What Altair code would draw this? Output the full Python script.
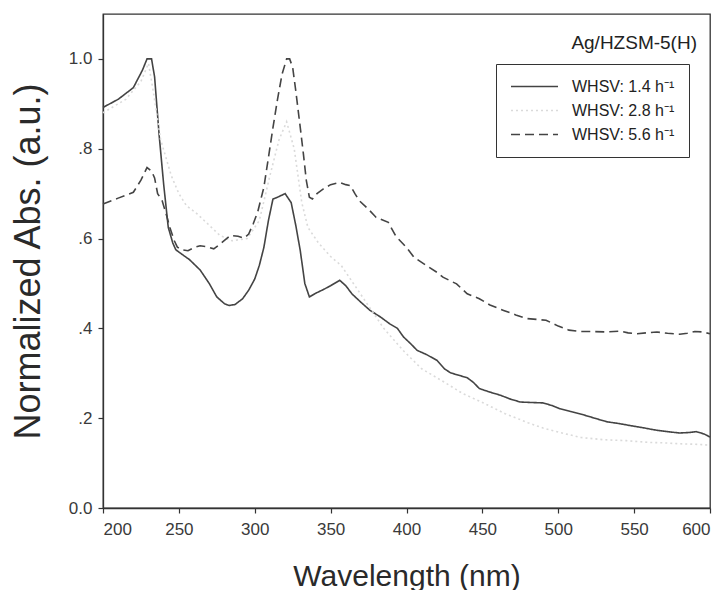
import altair as alt
import pandas as pd

# ---- data ----
series_names = ["WHSV: 1.4 h⁻¹", "WHSV: 2.8 h⁻¹", "WHSV: 5.6 h⁻¹"]

wl_14 = [200, 210, 220, 226, 229, 232, 234, 237, 240, 243, 246, 248, 252, 257, 264, 270, 275,
         280, 283, 287, 292, 296, 300, 303, 306, 309, 312, 315, 320, 324, 327, 330, 333, 336,
         340, 345, 350, 356, 360, 364, 370, 376, 383, 389, 394, 398, 403, 407, 413, 420, 425,
         429, 435, 440, 444, 448, 455, 462, 468, 475, 482, 490, 496, 501, 508, 516, 524, 532,
         540, 550, 557, 565, 572, 580, 586, 591, 596, 600]
ab_14 = [0.892, 0.91, 0.936, 0.975, 1.0, 1.0, 0.96, 0.83, 0.72, 0.625, 0.59, 0.575, 0.565, 0.553,
         0.53, 0.50, 0.47, 0.455, 0.451, 0.453, 0.466, 0.485, 0.51, 0.54, 0.58, 0.64, 0.688, 0.692,
         0.70, 0.680, 0.63, 0.573, 0.50, 0.47, 0.478, 0.486, 0.495, 0.507, 0.495, 0.477, 0.458,
         0.44, 0.425, 0.41, 0.40, 0.381, 0.365, 0.351, 0.342, 0.329, 0.31, 0.301, 0.295, 0.29,
         0.28, 0.266, 0.258, 0.251, 0.243, 0.236, 0.235, 0.234, 0.228, 0.221, 0.215, 0.208, 0.2,
         0.192, 0.188, 0.182, 0.178, 0.173, 0.17, 0.167, 0.168, 0.17, 0.165, 0.158]

wl_28 = [200, 215, 225, 230, 233, 238, 245, 250, 255, 262, 268, 277, 285, 295, 303, 310, 316,
         321, 326, 331, 335, 342, 350, 357, 365, 375, 385, 398, 410, 425, 437, 450, 465, 480,
         490, 505, 515, 530, 545, 560, 570, 580, 590, 600]
ab_28 = [0.88, 0.91, 0.95, 0.99, 0.93, 0.82, 0.74, 0.70, 0.673, 0.655, 0.636, 0.607, 0.595, 0.60,
         0.64, 0.74, 0.82, 0.86, 0.80, 0.68, 0.625, 0.59, 0.56, 0.54, 0.50, 0.45, 0.40, 0.35,
         0.31, 0.28, 0.255, 0.235, 0.21, 0.19, 0.178, 0.165, 0.157, 0.152, 0.15, 0.146, 0.145,
         0.143, 0.142, 0.14]

wl_56 = [200, 210, 220, 225, 229, 232, 234, 236, 239, 242, 244, 247, 249, 252, 256, 260, 264,
         268, 273, 278, 284, 289, 293, 296, 299, 302, 306, 309, 312, 315, 318, 321, 323, 325,
         327, 330, 332, 334, 336, 338, 341, 345, 350, 356, 360, 363, 366, 369, 375, 380, 388,
         393, 400, 405, 413, 420, 424, 433, 440, 448, 455, 464, 472, 479, 492, 500, 507, 515,
         523, 532, 541, 546, 552, 558, 565, 572, 580, 585, 590, 595, 600]
ab_56 = [0.677, 0.69, 0.703, 0.73, 0.758, 0.75, 0.735, 0.70, 0.684, 0.65, 0.625, 0.595, 0.581,
         0.575, 0.573, 0.58, 0.584, 0.582, 0.577, 0.59, 0.607, 0.605, 0.601, 0.61, 0.633, 0.66,
         0.714, 0.78, 0.847, 0.91, 0.966, 1.0, 1.0, 0.981, 0.93, 0.847, 0.79, 0.729, 0.692, 0.688,
         0.70, 0.71, 0.72, 0.725, 0.72, 0.718, 0.70, 0.684, 0.665, 0.647, 0.636, 0.605, 0.58,
         0.558, 0.54, 0.525, 0.514, 0.499, 0.477, 0.466, 0.452, 0.44, 0.43, 0.422, 0.418, 0.405,
         0.396, 0.393, 0.393, 0.392, 0.394, 0.39, 0.388, 0.39, 0.392, 0.389, 0.387, 0.389, 0.393,
         0.392, 0.388]

x_ticks = [200, 250, 300, 350, 400, 450, 500, 550, 600]
y_ticks = [0.0, 0.2, 0.4, 0.6, 0.8, 1.0]
sample_label = "Ag/HZSM-5(H)"

rows = []
for name, wl, ab in zip(series_names, [wl_14, wl_28, wl_56], [ab_14, ab_28, ab_56]):
    for w, a in zip(wl, ab):
        rows.append({"series": name, "wl": w, "abs": a})
df = pd.DataFrame(rows)

FONT = "Liberation Sans"
W, H = 607, 494

legend_cfg = dict(title=None, orient="none", legendX=393, legendY=50,
                  symbolType="stroke", symbolSize=2209,
                  symbolStrokeWidth=1.5, clipHeight=17, rowPadding=7,
                  labelFontSize=16, labelFont=FONT, labelColor="#222",
                  labelOffset=13, padding=14, strokeColor="#333",
                  fillColor="white")

lines = alt.Chart(df).mark_line(strokeWidth=1.6).encode(
    x=alt.X("wl:Q", scale=alt.Scale(domain=[200, 600], nice=False),
            axis=alt.Axis(values=x_ticks, title="Wavelength (nm)", titleFontSize=30,
                          titleFontWeight="normal", titleFont=FONT, titleColor="#2a2a2a",
                          titleX=W / 2, titleY=68, titleBaseline="middle",
                          labelFontSize=17, labelPadding=8)),
    y=alt.Y("abs:Q", scale=alt.Scale(domain=[0, 1.1], nice=False),
            axis=alt.Axis(values=y_ticks, title="Normalized Abs. (a.u.)", titleFontSize=36,
                          titleFontWeight="normal", titleFont=FONT, titleColor="#2a2a2a",
                          titleAngle=-90, titleX=-75, titleY=H / 2,
                          titleBaseline="middle", titleAlign="center",
                          labelFontSize=17, labelPadding=6,
                          labelExpr="datum.value == 0 ? '0.0' : datum.value == 1 ? '1.0' : replace(format(datum.value, '.1f'), '0.', '.')")),
    color=alt.Color("series:N", scale=alt.Scale(domain=series_names,
                                                 range=["#444444", "#dadada", "#444444"]),
                    legend=alt.Legend(**legend_cfg)),
    strokeDash=alt.StrokeDash("series:N", scale=alt.Scale(domain=series_names,
                                                          range=[[1, 0], [2, 3], [9, 5]]),
                              legend=alt.Legend(**legend_cfg)),
)

label = alt.Chart(pd.DataFrame({"t": [sample_label]})).mark_text(
    align="right", baseline="middle", fontSize=19, font=FONT, color="#222"
).encode(text="t:N", x=alt.value(594), y=alt.value(29))

chart = alt.layer(lines, label).properties(
    width=W, height=H,
    autosize=alt.AutoSizeParams(type="none"),
    padding={"left": 103, "top": 14, "right": 17, "bottom": 82},
    background="white",
).configure_view(
    stroke="#333", strokeWidth=1.3
).configure_axis(
    grid=False, domainColor="#333", domainWidth=1.3, tickColor="#333", tickSize=5,
    tickWidth=1.2, labelFont=FONT, labelColor="#3a3a3a",
)

chart.save("out.html", embed_options={"renderer": "svg", "actions": False})
